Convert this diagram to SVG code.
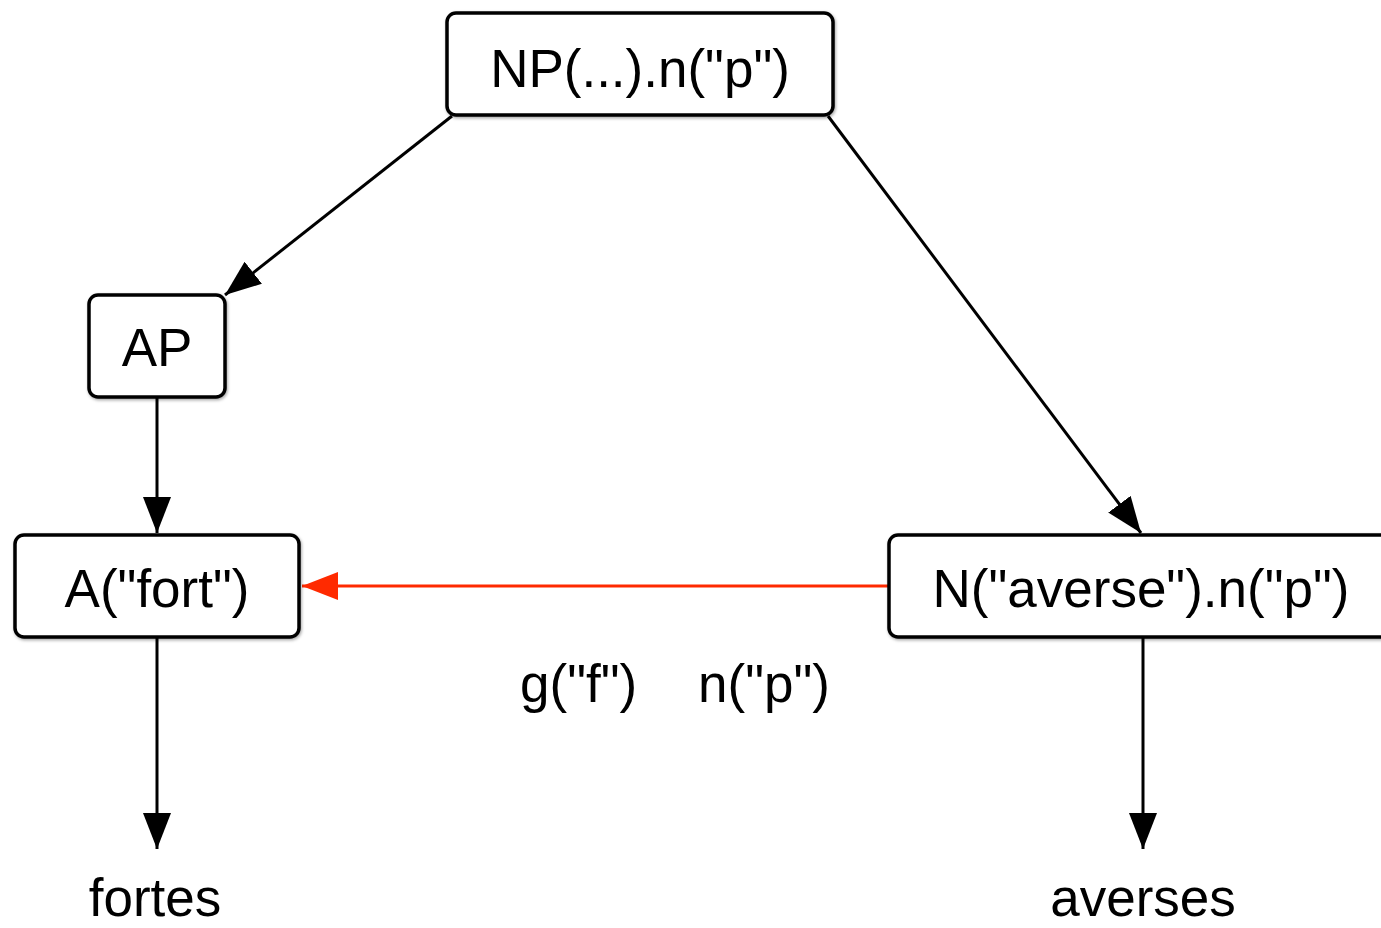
<svg xmlns="http://www.w3.org/2000/svg" width="1381" height="928" viewBox="0 0 1381 928">
<defs>
<filter id="sh" x="-10%" y="-10%" width="120%" height="130%">
<feDropShadow dx="1" dy="1.5" stdDeviation="1.5" flood-color="#000" flood-opacity="0.35"/>
</filter>
<marker id="ab" markerUnits="userSpaceOnUse" markerWidth="36" markerHeight="28" refX="36" refY="14" orient="auto">
<path d="M0,0 L36,14 L0,28 z" fill="#000"/>
</marker>
<marker id="ar" markerUnits="userSpaceOnUse" markerWidth="36" markerHeight="28" refX="36" refY="14" orient="auto">
<path d="M0,0 L36,14 L0,28 z" fill="#ff2a00"/>
</marker>
</defs>
<style>
.box{fill:#fff;stroke:#000;stroke-width:3.5;filter:url(#sh)}
.t{font-family:"Liberation Sans",Arial,Helvetica,sans-serif;font-size:53px;fill:#000}
.m{text-anchor:middle}
.c{stroke:#000;stroke-width:3;fill:none;marker-end:url(#ab)}
.r{stroke:#ff2a00;stroke-width:3;fill:none;marker-end:url(#ar)}
</style>
<rect width="1381" height="928" fill="#fff"/>
<g id="connectors">
<line class="c" x1="452" y1="116" x2="225" y2="295"/>
<line class="c" x1="828" y1="116" x2="1141" y2="533"/>
<line class="c" x1="157" y1="397" x2="157" y2="533"/>
<line class="r" x1="889" y1="586" x2="302" y2="586"/>
<line class="c" x1="157" y1="637" x2="157" y2="849"/>
<line class="c" x1="1143" y1="637" x2="1143" y2="849"/>
</g>
<g id="np">
<rect class="box" x="447" y="13" width="386" height="102" rx="9"/>
<text class="t m" x="640" y="87">NP(...).n("p")</text>
</g>
<g id="ap">
<rect class="box" x="89" y="295" width="136" height="102" rx="9"/>
<text class="t m" x="157" y="366">AP</text>
</g>
<g id="afort">
<rect class="box" x="15" y="535" width="284" height="102" rx="9"/>
<text class="t m" x="157" y="607">A("fort")</text>
</g>
<g id="naverse">
<rect class="box" x="889" y="535" width="510" height="102" rx="9"/>
<text class="t m" x="1141" y="607">N("averse").n("p")</text>
</g>
<g id="labels">
<text class="t" x="520" y="702">g("f")</text>
<text class="t" x="698" y="702">n("p")</text>
</g>
<g id="fortes">
<text class="t m" x="155" y="916">fortes</text>
</g>
<g id="averses">
<text class="t m" x="1143" y="916">averses</text>
</g>
</svg>
